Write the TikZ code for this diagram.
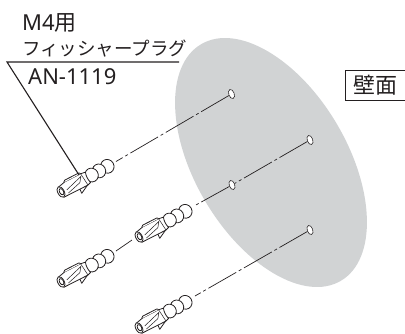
\documentclass[tikz,border=0pt]{standalone}
\usepackage{fontspec}
\setmainfont{Noto Sans}
\newfontfamily\cjk{Noto Sans CJK JP}
\usetikzlibrary{shapes.geometric}
\definecolor{wall}{RGB}{209,211,212}
\definecolor{ink}{RGB}{35,31,32}
\tikzset{
  x=1pt,y=-1pt,
  label text/.style={inner sep=0pt,anchor=base west,text=ink},
  leader/.style={draw=ink,line width=1.1pt},
  axis line/.style={draw=ink,line width=0.7pt,dash pattern=on 32pt off 3pt on 3pt off 3pt},
  hole/.style={ellipse,draw=ink,fill=white,line width=0.6pt,minimum width=9.5pt,minimum height=5.5pt,inner sep=0pt,rotate=-70},
  plugline/.style={draw=ink,line width=0.8pt,fill=white,line join=round},
  plug/.pic={
    \begin{scope}[y=1pt,rotate=29]
      \draw[plugline] (53,0) ellipse (6.6 and 7);
      \draw[plugline] (43.5,0) ellipse (6.6 and 7);
      \draw[plugline] (35,0) ellipse (6.6 and 7);
      \draw[plugline] (18,-6) -- (17.5,-11.2) -- (29.5,-5.5) -- cycle;
      \draw[plugline] (0,5.5) -- (8,7) -- (26,6.5) -- (31,5.5) .. controls (29.5,2) and (29.5,-2) .. (30.5,-6) -- (27,-7) -- (0,-6) -- cycle;
      \draw[plugline] (7,7) -- (9,8.6) -- (25,8) -- (26,6.5);
      \draw[draw=ink,line width=0.5pt] (6,-1) -- (25,4) (6,-4.5) -- (21,-1) -- (25,4) (26,6.5) -- (27,-7);
      \draw[plugline] (0,0) ellipse (3.2 and 5.8);
      \draw[plugline] (0.6,0) ellipse (2 and 3.4);
    \end{scope}
  }
}
\begin{document}
\begin{tikzpicture}
\useasboundingbox (0,0) rectangle (405,333);
\fill[wall,rotate around={-59.4:(271,162.5)}] (271,162.5) ellipse (137.4 and 76.3);

\node[hole] (h1) at (231.5,94) {};
\node[hole] (h2) at (310,140) {};
\node[hole] (h3) at (232,185) {};
\node[hole] (h4) at (310,230) {};

\coordinate (p1) at (61,192);
\coordinate (p2) at (61,282);
\coordinate (p3) at (139,237);
\coordinate (p4) at (139,328);
\coordinate (e1) at (116,161.5);
\coordinate (e2) at (116,251);
\coordinate (e3) at (195,205.5);
\coordinate (e4) at (195,296);
\coordinate (t3) at (132,240);

\draw[axis line] (h1) -- (e1);
\draw[axis line] (h2) -- (h3) -- (e3);
\draw[axis line] (h4) -- (e4);
\draw[axis line] (e2) -- (t3);

\pic at (p1) {plug};
\pic at (p2) {plug};
\pic at (p3) {plug};
\pic at (p4) {plug};

\coordinate (lc) at (7,62);
\coordinate (lr) at (179,62);
\coordinate (lp) at (79,175);
\draw[leader] (lr) -- (lc) -- (lp);

\node[label text,font=\fontsize{22}{22}\selectfont] (t1) at (22,30) {M4{\cjk 用}};
\node[label text,font=\fontsize{18.5}{18.5}\selectfont\cjk] (t2) at (22,55) {フィッシャープラグ};
\node[label text,font=\fontsize{22}{22}\selectfont] (t4) at (28,84.5) {AN-1119};

\node[draw=ink,line width=0.8pt,minimum width=60pt,minimum height=30pt,inner sep=0pt,text=ink,font=\fontsize{22}{22}\selectfont\cjk,anchor=north west] (wl) at (345,70) {壁面};
\end{tikzpicture}
\end{document}
